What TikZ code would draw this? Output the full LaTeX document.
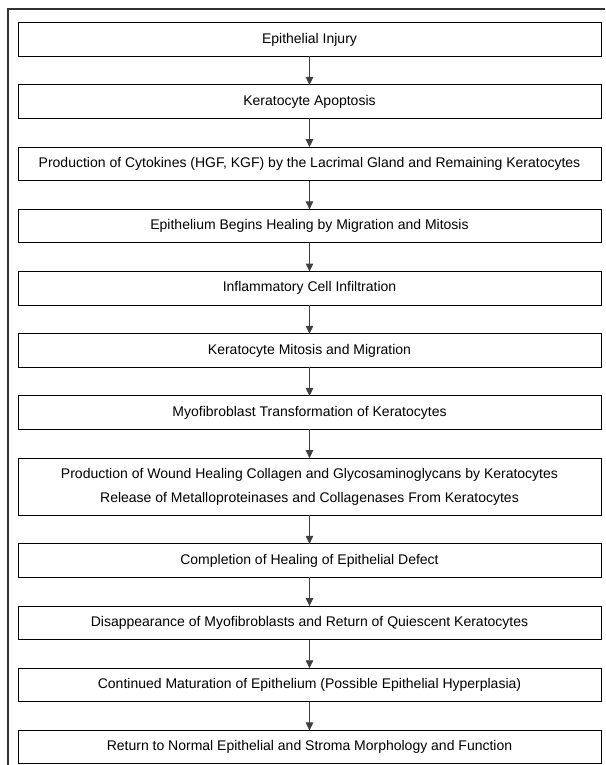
\documentclass[tikz,border=0pt]{standalone}
\usepackage{fontspec}
\setmainfont{Liberation Sans}
\usepackage{tikz}
\usetikzlibrary{positioning,arrows.meta}

\begin{document}
\begin{tikzpicture}[node distance=28.7pt, outer sep=0pt,
    font=\fontsize{14}{24}\selectfont,
    stage/.style={draw, rectangle, line width=1pt, inner sep=0pt, minimum width=583pt, minimum height=33.5pt, align=center},
    flow/.style={draw=black!75, line width=0.9pt, -{Triangle[length=8pt,width=7.5pt]}}]
    \useasboundingbox (0pt,0pt) rectangle (605pt,-765pt);
    % frame
    \coordinate (fr1) at (605pt,-9pt);
    \coordinate (fr2) at (8pt,-9pt);
    \coordinate (fr3) at (8pt,-765pt);
    \draw [black!80, line width=1.4pt] (fr1) -- (fr2) -- (fr3);

    \node [stage] (s1) at (309.5pt,-39.5pt) {Epithelial Injury};
    \node [stage, below=of s1] (s2) {Keratocyte Apoptosis};
    \node [stage, below=of s2] (s3) {Production of Cytokines (HGF, KGF) by the Lacrimal Gland and Remaining Keratocytes};
    \node [stage, below=of s3] (s4) {Epithelium Begins Healing by Migration and Mitosis};
    \node [stage, below=of s4] (s5) {Inflammatory Cell Infiltration};
    \node [stage, below=of s5] (s6) {Keratocyte Mitosis and Migration};
    \node [stage, below=of s6] (s7) {Myofibroblast Transformation of Keratocytes};
    \node [stage, minimum height=57pt, below=of s7] (s8) {Production of Wound Healing Collagen and Glycosaminoglycans by Keratocytes\\Release of Metalloproteinases and Collagenases From Keratocytes};
    \node [stage, below=of s8] (s9) {Completion of Healing of Epithelial Defect};
    \node [stage, below=of s9] (s10) {Disappearance of Myofibroblasts and Return of Quiescent Keratocytes};
    \node [stage, below=of s10] (s11) {Continued Maturation of Epithelium (Possible Epithelial Hyperplasia)};
    \node [stage, below=of s11] (s12) {Return to Normal Epithelial and Stroma Morphology and Function};

    \foreach \a/\b in {s1/s2,s2/s3,s3/s4,s4/s5,s5/s6,s6/s7,s7/s8,s8/s9,s9/s10,s10/s11,s11/s12}
        \draw [flow] (\a) -- (\b);
\end{tikzpicture}
\end{document}
